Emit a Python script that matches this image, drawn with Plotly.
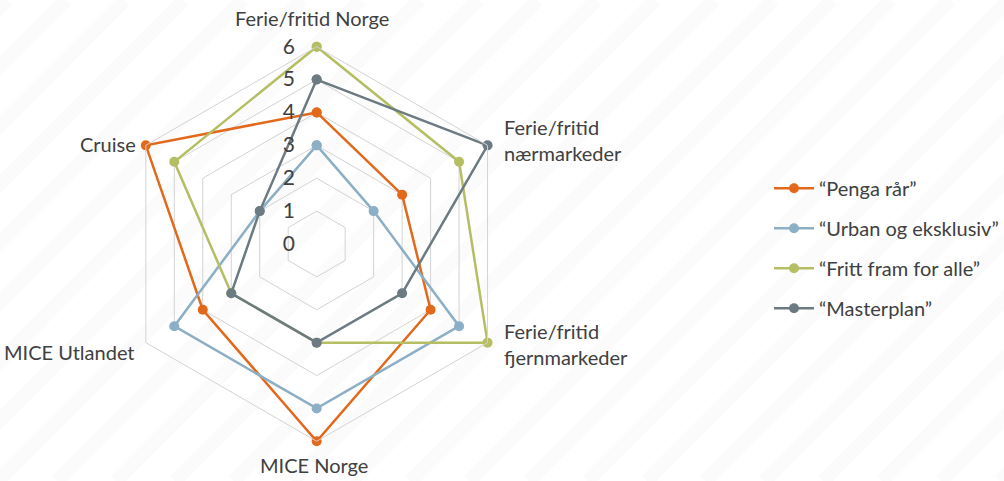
import math
import plotly.graph_objects as go

# Axes of the radar, clockwise from the top
categories = [
    "Ferie/fritid Norge",
    "Ferie/fritid nærmarkeder",
    "Ferie/fritid fjernmarkeder",
    "MICE Norge",
    "MICE Utlandet",
    "Cruise",
]
category_labels = [
    "Ferie/fritid Norge",
    "Ferie/fritid<br>nærmarkeder",
    "Ferie/fritid<br>fjernmarkeder",
    "MICE Norge",
    "MICE Utlandet",
    "Cruise",
]

series_names = ["“Penga rår”", "“Urban og eksklusiv”", "“Fritt fram for alle”", "“Masterplan”"]
penga_raar = [4, 3, 4, 6, 4, 6]
urban_eksklusiv = [3, 2, 5, 5, 5, 2]
fritt_fram = [6, 5, 6, 3, 3, 5]
masterplan = [5, 6, 3, 3, 3, 2]
series_values = [penga_raar, urban_eksklusiv, fritt_fram, masterplan]
series_colors = ["#E2691C", "#8CAFC6", "#B5BE62", "#6C7A82"]

radial_ticks = [0, 1, 2, 3, 4, 5, 6]

FONT = "Lato"
TEXT = "#404040"
GRID = "#D3D3D3"
W, H = 1004, 481

# Polar area: centre and outer radius in pixels
CX, CY, R = 317.0, 244.0, 197.5
dom_x = [(CX - R) / W, (CX + R) / W]
dom_y = [(H - CY - R) / H, (H - CY + R) / H]

fig = go.Figure()
for i, (name, vals, col) in enumerate(zip(series_names, series_values, series_colors)):
    fig.add_trace(go.Scatterpolar(
        r=vals + vals[:1],
        theta=categories + categories[:1],
        mode="lines+markers",
        name=name,
        legendgroup=f"g{i}",
        line=dict(color=col, width=2.5),
        marker=dict(color=col, size=10),
    ))

# Faint diagonal background stripes
stripes = []
period, phase = 59, 7
x_top = phase - period
while x_top < W + H + period:
    stripes.append(dict(
        type="line", xref="paper", yref="paper", layer="below",
        x0=(x_top - H) / W, y0=0, x1=x_top / W, y1=1,
        line=dict(color="#FBFBFB", width=14),
    ))
    x_top += period

# Category labels placed just outside each spoke end
label_style = [
    # xanchor, yanchor, align, dx, dy (pixels, y downwards)
    ("center", "bottom", "center", -5, -14),
    ("left", "middle", "left", 14, -5),
    ("left", "middle", "left", 14, 1),
    ("center", "top", "center", -3, 9),
    ("right", "middle", "right", -9, 9),
    ("right", "middle", "right", -8, -1),
]
annotations = []
for k, (txt, (xa, ya, al, dx, dy)) in enumerate(zip(category_labels, label_style)):
    ang = math.radians(90 - 60 * k)
    px = CX + R * math.cos(ang) + dx
    py = CY - R * math.sin(ang) + dy
    annotations.append(dict(
        text=txt, xref="paper", yref="paper", x=px / W, y=1 - py / H,
        xanchor=xa, yanchor=ya, align=al, showarrow=False,
        font=dict(size=20, color=TEXT, family=FONT),
    ))

fig.update_layout(
    width=W, height=H,
    margin=dict(l=0, r=0, t=0, b=0),
    paper_bgcolor="white",
    plot_bgcolor="rgba(0,0,0,0)",
    shapes=stripes,
    annotations=annotations,
    font=dict(family=FONT, color=TEXT, size=20),
    polar=dict(
        domain=dict(x=dom_x, y=dom_y),
        bgcolor="rgba(0,0,0,0)",
        gridshape="linear",
        angularaxis=dict(
            direction="clockwise", rotation=90,
            showgrid=False, showline=True, linecolor=GRID, linewidth=1,
            ticks="", showticklabels=False,
        ),
        radialaxis=dict(
            range=[0, 6], tickvals=radial_ticks, ticktext=[str(v) for v in radial_ticks],
            angle=90, tickangle=90, side="counterclockwise",
            showline=False, ticks="outside", ticklen=14, tickcolor="rgba(0,0,0,0)",
            gridcolor=GRID, gridwidth=1,
            tickfont=dict(size=21, color=TEXT, family=FONT),
        ),
    ),
    legend=dict(
        x=0.767, y=0.484, xanchor="left", yanchor="middle",
        bgcolor="rgba(0,0,0,0)",
        font=dict(size=20, color=TEXT, family=FONT),
        tracegroupgap=11, itemwidth=40,
    ),
)

fig.write_html("out.html")
